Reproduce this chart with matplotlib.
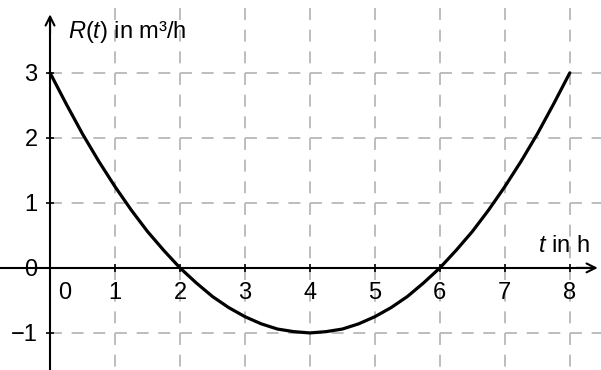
import matplotlib
matplotlib.use("Agg")
import matplotlib.pyplot as plt
import matplotlib.transforms as mtransforms

# data
t_values = [0, 0.25, 0.5, 0.75, 1, 1.25, 1.5, 1.75, 2, 2.25, 2.5, 2.75, 3, 3.25, 3.5, 3.75,
            4, 4.25, 4.5, 4.75, 5, 5.25, 5.5, 5.75, 6, 6.25, 6.5, 6.75, 7, 7.25, 7.5, 7.75, 8]
r_values = [3.0, 2.52, 2.06, 1.64, 1.25, 0.89, 0.56, 0.27, 0.0, -0.23, -0.44, -0.61, -0.75,
            -0.86, -0.94, -0.98, -1.0, -0.98, -0.94, -0.86, -0.75, -0.61, -0.44, -0.23, 0.0,
            0.27, 0.56, 0.89, 1.25, 1.64, 2.06, 2.52, 3.0]
x_ticks = [0, 1, 2, 3, 4, 5, 6, 7, 8]
x_tick_labels = ["0", "1", "2", "3", "4", "5", "6", "7", "8"]
y_ticks = [-1, 0, 1, 2, 3]
y_tick_labels = ["\u22121", "0", "1", "2", "3"]
x_grid = [1, 2, 3, 4, 5, 6, 7, 8]
y_grid = [-1, 1, 2, 3]
x_label = "$\\it{t}$ in h"
y_label = "$\\it{R}$($\\it{t}$) in m\u00b3/h"

plt.rcParams['font.family'] = ['Liberation Sans', 'DejaVu Sans']
plt.rcParams['mathtext.fontset'] = 'custom'
plt.rcParams['mathtext.rm'] = 'Liberation Sans'
plt.rcParams['mathtext.it'] = 'Liberation Sans:italic'
plt.rcParams['lines.scale_dashes'] = False

FS = 17
XMIN, XMAX, YMIN, YMAX = -0.77, 8.48, -1.57, 4.12

fig = plt.figure(figsize=(6.01, 3.70), dpi=100)
ax = fig.add_axes([0, 0, 1, 1])
ax.set_xlim(XMIN, XMAX)
ax.set_ylim(YMIN, YMAX)

grid_kw = dict(color="#b8b8b8", lw=1.3, dashes=(8.6, 7.0), zorder=1, solid_capstyle="butt")
for x in x_grid:
    ax.plot([x, x], [4.0, YMIN], **grid_kw)
for y in y_grid:
    ax.plot([0, XMAX], [y, y], **grid_kw)

ax.plot(t_values, r_values, color="black", lw=2.3, zorder=4, solid_capstyle="round")

for s in ["top", "right"]:
    ax.spines[s].set_visible(False)
ax.spines["left"].set_position(("data", 0))
ax.spines["bottom"].set_position(("data", 0))
ax.spines["left"].set_linewidth(1.5)
ax.spines["bottom"].set_linewidth(1.5)
ax.spines["left"].set_bounds(YMIN, 3.85)
ax.spines["bottom"].set_bounds(XMIN, 8.38)
ax.annotate("", xy=(0, 3.90), xytext=(0, 3.6),
            arrowprops=dict(arrowstyle="->", lw=1.5, color="black",
                            mutation_scale=16, shrinkA=0, shrinkB=0), zorder=5)
ax.annotate("", xy=(8.43, 0), xytext=(8.1, 0),
            arrowprops=dict(arrowstyle="->", lw=1.5, color="black",
                            mutation_scale=16, shrinkA=0, shrinkB=0), zorder=5)

ax.set_xticks(x_ticks, x_tick_labels)
ax.set_yticks(y_ticks, y_tick_labels)
ax.tick_params(axis="both", direction="inout", length=6, width=1.2, labelsize=FS,
               colors="black")
ax.tick_params(axis="x", pad=7)
ax.tick_params(axis="y", pad=6)
lbl0 = ax.get_xticklabels()[0]
lbl0.set_transform(lbl0.get_transform() + mtransforms.ScaledTranslation(15 / 100, 0, fig.dpi_scale_trans))
ax.xaxis.get_major_ticks()[0].tick1line.set_visible(False)
ax.yaxis.get_major_ticks()[1].tick1line.set_visible(False)

ax.text(0.27, 3.63, y_label, fontsize=FS, ha="left", va="center")
ax.text(8.30, 0.34, x_label, fontsize=FS, ha="right", va="center")

fig.savefig("out.png", dpi=100)
